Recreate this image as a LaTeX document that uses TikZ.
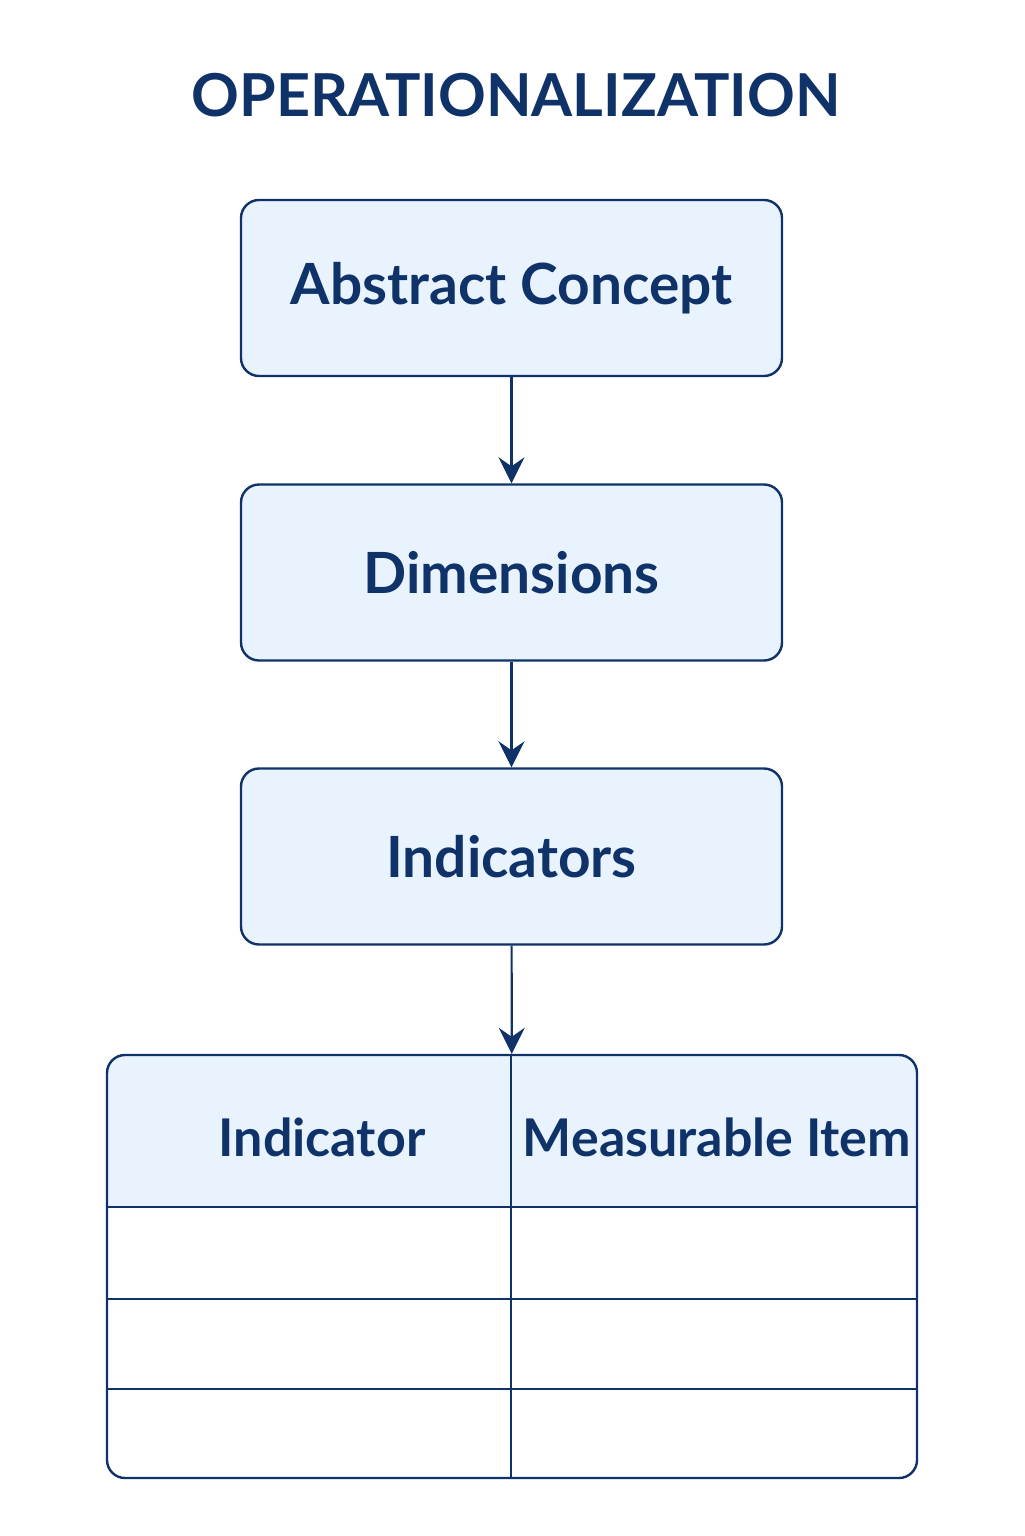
\documentclass[tikz,border=0pt]{standalone}
\usepackage{fontspec}
\setmainfont{Lato}
\usetikzlibrary{arrows.meta}
\definecolor{navy}{HTML}{0F3268}
\definecolor{boxfill}{HTML}{E8F3FD}
\tikzset{
  stage/.style={draw=navy, fill=boxfill, line width=1.2pt, rounded corners=9pt,
    minimum width=270.5pt, minimum height=88pt, text=navy,
    font=\fontsize{28.4}{34}\selectfont\bfseries},
  cell/.style={text=navy, font=\fontsize{26}{31}\selectfont\bfseries},
  flow/.style={draw=navy, line width=1.1pt, -{Stealth[length=13pt,width=13pt,inset=4.5pt]}},
  grid/.style={draw=navy, line width=1.2pt},
}
\begin{document}
\begin{tikzpicture}[x=0.5pt,y=-0.5pt]
    \useasboundingbox (0,0) rectangle (1024,1536);
    \node[text=navy, font=\fontsize{29.6}{36}\selectfont\bfseries] (title) at (516,95) {OPERATIONALIZATION};
    % stages
    \node[stage] (concept) at (511.5,288) {Abstract Concept};
    \node[stage] (dims) at (511.5,572.5) {Dimensions};
    \node[stage] (inds) at (511.5,856.5) {Indicators};
    % table
    \begin{scope}
        \clip[rounded corners=9pt] (107,1055) rectangle (917,1478);
        \fill[boxfill] (107,1055) rectangle (917,1207);
    \end{scope}
    \node[grid, rounded corners=9pt, minimum width=405pt, minimum height=211.5pt] (tab) at (512,1266.5) {};
    \draw[grid] (tab.west |- 0,1207) -- (tab.east |- 0,1207);
    \draw[grid] (tab.west |- 0,1299) -- (tab.east |- 0,1299);
    \draw[grid] (tab.west |- 0,1389) -- (tab.east |- 0,1389);
    \draw[grid] (511,0 |- tab.north) -- (511,0 |- tab.south);
    \node[cell] (hdind) at (322,1137) {Indicator};
    \node[cell] (hdmeas) at (717,1137) {Measurable Item};
    % arrows
    \draw[flow] (concept) -- (dims);
    \draw[flow] (dims) -- (inds);
    \draw[flow] (inds) -- (tab);
\end{tikzpicture}
\end{document}
